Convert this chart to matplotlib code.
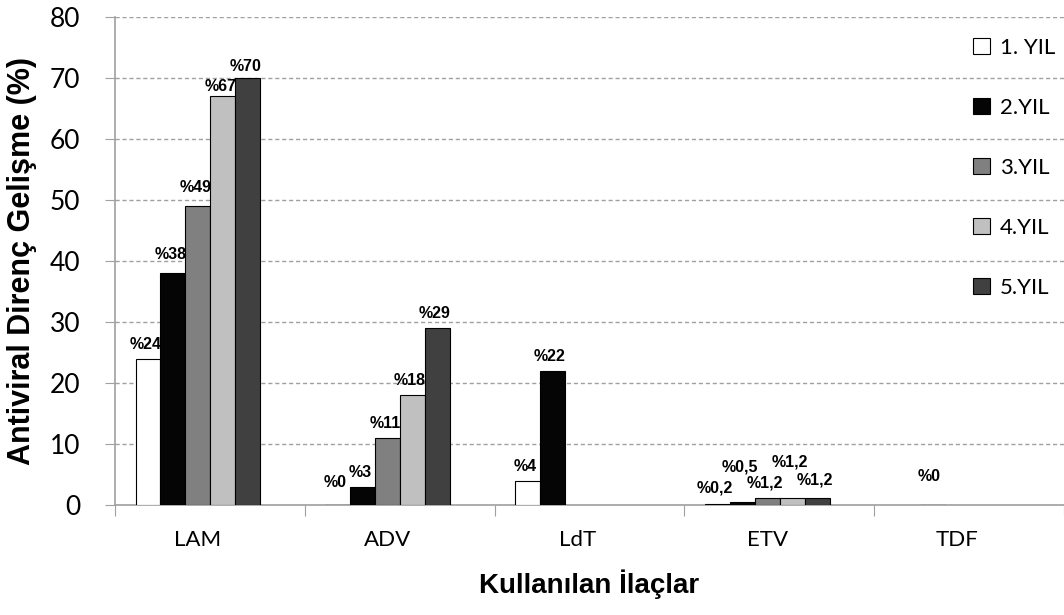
import matplotlib
matplotlib.use("Agg")
import matplotlib.pyplot as plt
import numpy as np

# data
drugs = ["LAM", "ADV", "LdT", "ETV", "TDF"]
years = ["1. YIL", "2.YIL", "3.YIL", "4.YIL", "5.YIL"]
yil1 = [24, 0, 4, 0.2, None]
yil2 = [38, 3, 22, 0.5, 0]
yil3 = [49, 11, None, 1.2, None]
yil4 = [67, 18, None, 1.2, None]
yil5 = [70, 29, None, 1.2, None]
labels1 = ["%24", "%0", "%4", "%0,2", None]
labels2 = ["%38", "%3", "%22", "%0,5", "%0"]
labels3 = ["%49", "%11", None, "%1,2", None]
labels4 = ["%67", "%18", None, "%1,2", None]
labels5 = ["%70", "%29", None, "%1,2", None]

series = [yil1, yil2, yil3, yil4, yil5]
series_labels = [labels1, labels2, labels3, labels4, labels5]

g_colors = ["#ffffff", "#050505", "#808080", "#c0c0c0", "#404040"]
g_axis_color = "#a0a0a0"
g_bar_width = 25.0 / 190.0
g_shift = 0.063

# label offsets in points above bar top, per (series, category)
g_label_dy = np.full((5, 5), 5.0)
g_label_dy[1, 0] = 8
g_label_dy[2, 0] = 8
g_label_dy[3, 0] = 2
g_label_dy[4, 0] = 3
g_label_dy[0, 1] = 11
g_label_dy[0, 3] = 6
g_label_dy[1, 3] = 20
g_label_dy[2, 3] = 5
g_label_dy[3, 3] = 20
g_label_dy[4, 3] = 7
g_label_dy[1, 4] = 15


def main():
    fig = plt.figure(figsize=(10.64, 6.15), dpi=100)
    ax = fig.add_axes([115 / 1064, 1 - 505 / 615, 1 - 115 / 1064, (505 - 17) / 615])

    x = np.arange(len(drugs))
    for j, (vals, labs) in enumerate(zip(series, series_labels)):
        xs = x + (j - 2) * g_bar_width
        h = [v if v is not None else 0 for v in vals]
        bars = ax.bar(xs, h, width=g_bar_width, color=g_colors[j], edgecolor="black",
                      linewidth=0.8, label=years[j], zorder=3)
        for i, bar in enumerate(bars):
            if vals[i] is None:
                bar.set_visible(False)
            if labs[i] is None:
                continue
            ax.annotate(labs[i], (xs[i], h[i]), xytext=(-2, g_label_dy[j, i]),
                        textcoords="offset points", ha="center", va="bottom",
                        fontsize=11.5, fontweight="bold", family="Liberation Sans", zorder=4)

    ax.set_ylim(0, 80)
    ax.set_xlim(-0.5 + g_shift, len(drugs) - 0.5 + g_shift)
    ax.set_yticks(np.arange(0, 81, 10))
    ax.yaxis.grid(True, linestyle=(0, (3, 2)), color=g_axis_color, linewidth=1.0, zorder=0)

    # category boundaries as major ticks, names on minor ticks
    ax.set_xticks(np.arange(len(drugs) + 1) - 0.5 + g_shift)
    ax.set_xticklabels([])
    ax.set_xticks(x, minor=True)
    ax.set_xticklabels(drugs, minor=True, fontsize=16, family="Lato")
    ax.tick_params(axis="x", which="major", length=8, color=g_axis_color, direction="out")
    ax.tick_params(axis="x", which="minor", length=0, pad=18)
    ax.tick_params(axis="y", length=7, color=g_axis_color, pad=18)
    for t in ax.get_yticklabels():
        t.set_fontsize(19)
        t.set_family("Lato")

    for s in ["top", "right"]:
        ax.spines[s].set_visible(False)
    for s in ["left", "bottom"]:
        ax.spines[s].set_color(g_axis_color)
        ax.spines[s].set_linewidth(1.2)

    ax.set_ylabel("Antiviral Direnç Gelişme (%)", fontsize=22, fontweight="bold",
                  family="Liberation Sans")
    ax.set_xlabel("Kullanılan İlaçlar", fontsize=20, fontweight="bold",
                  family="Liberation Sans", labelpad=14)
    ax.yaxis.set_label_coords((37 - 115) / 949, 0.5)

    ax.legend(loc="upper right", bbox_to_anchor=(1.0, 0.975), frameon=False,
              prop={"family": "Lato", "size": 16}, labelspacing=1.8,
              handlelength=0.75, handleheight=0.75, handletextpad=0.45,
              borderaxespad=0.0)

    fig.savefig("out.png", dpi=100)


if __name__ == "__main__":
    main()
